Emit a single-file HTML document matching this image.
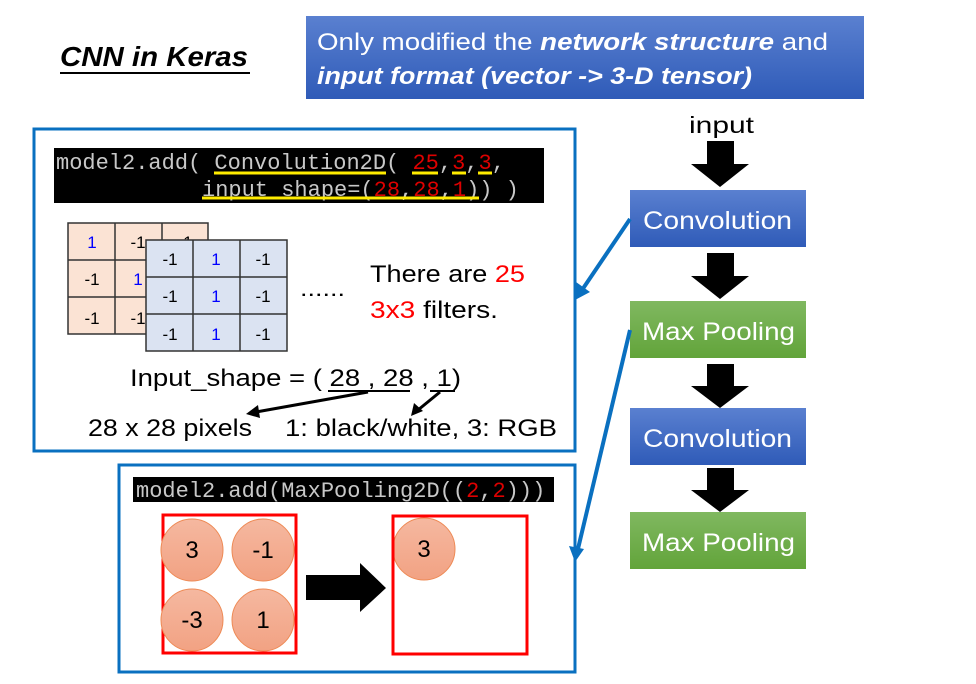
<!DOCTYPE html>
<html><head><meta charset="utf-8"><style>
body{margin:0;background:#fff}
svg{display:block}
text{font-family:"Liberation Sans",sans-serif}
.mono{font-family:"Liberation Mono",monospace}
</style></head><body>
<svg width="976" height="684" viewBox="0 0 976 684" xmlns="http://www.w3.org/2000/svg">
<defs>
<linearGradient id="bl" x1="0" y1="0" x2="0" y2="1"><stop offset="0" stop-color="#5a80d0"/><stop offset="1" stop-color="#2f5bb8"/></linearGradient>
<linearGradient id="gr" x1="0" y1="0" x2="0" y2="1"><stop offset="0" stop-color="#80b860"/><stop offset="1" stop-color="#62a43a"/></linearGradient>
<linearGradient id="ci" x1="0" y1="0" x2="0" y2="1"><stop offset="0" stop-color="#f5b8a0"/><stop offset="1" stop-color="#f2a283"/></linearGradient>
</defs>
<text x="60" y="66" font-size="28" font-weight="bold" font-style="italic" textLength="188" lengthAdjust="spacingAndGlyphs">CNN in Keras</text>
<line x1="60" y1="73" x2="250" y2="73" stroke="#000" stroke-width="2"/>
<rect x="306" y="16" width="558" height="83" fill="url(#bl)"/>
<text x="317" y="50" font-size="24" fill="#fff" textLength="511" lengthAdjust="spacingAndGlyphs">Only modified the <tspan font-weight="bold" font-style="italic">network structure</tspan> and</text>
<text x="317" y="84" font-size="24" fill="#fff" font-weight="bold" font-style="italic" textLength="435" lengthAdjust="spacingAndGlyphs">input format (vector -&gt; 3-D tensor)</text>
<text x="689" y="133" font-size="23" textLength="65" lengthAdjust="spacingAndGlyphs">input</text>
<g fill="#000">
<polygon points="707,141 734,141 734,164 749,164 720,187 691,164 707,164"/>
<polygon points="707,253 734,253 734,276 749,276 720,299 691,276 707,276"/>
<polygon points="707,364 734,364 734,386 749,386 720,408 691,386 707,386"/>
<polygon points="707,468 734,468 734,490 749,490 720,512 691,490 707,490"/>
</g>
<rect x="630" y="190" width="176" height="57" fill="url(#bl)"/>
<text x="643" y="229" font-size="25" fill="#fff" textLength="149" lengthAdjust="spacingAndGlyphs">Convolution</text>
<rect x="630" y="301" width="176" height="57" fill="url(#gr)"/>
<text x="642" y="340" font-size="25" fill="#fff" textLength="153" lengthAdjust="spacingAndGlyphs">Max Pooling</text>
<rect x="630" y="408" width="176" height="57" fill="url(#bl)"/>
<text x="643" y="447" font-size="25" fill="#fff" textLength="149" lengthAdjust="spacingAndGlyphs">Convolution</text>
<rect x="630" y="512" width="176" height="57" fill="url(#gr)"/>
<text x="642" y="551" font-size="25" fill="#fff" textLength="153" lengthAdjust="spacingAndGlyphs">Max Pooling</text>

<rect x="34" y="129" width="541" height="322" fill="none" stroke="#0a70c0" stroke-width="3"/>
<rect x="54" y="148" width="490" height="55" fill="#000"/>
<g fill="#c8c8c8" font-size="22">
<text x="56" y="169" class="mono" font-size="22">model2.add( Convolution2D( <tspan fill="#d00">25</tspan>,<tspan fill="#d00">3</tspan>,<tspan fill="#d00">3</tspan>,</text>
<text x="202" y="196" class="mono" font-size="22">input_shape=(<tspan fill="#d00">28</tspan>,<tspan fill="#d00">28</tspan>,<tspan fill="#d00">1</tspan>)) )</text>
</g>
<g stroke="#ffec00" stroke-width="3">
<line x1="214" y1="173" x2="386" y2="173"/><line x1="412" y1="173" x2="438" y2="173"/><line x1="452" y1="173" x2="466" y2="173"/><line x1="478" y1="173" x2="492" y2="173"/>
<line x1="202" y1="198" x2="479" y2="198"/>
</g>
<g stroke="#333" stroke-width="1.5" fill="#fbe3d4">
<rect x="68" y="223" width="140" height="111"/>
<line x1="115" y1="223" x2="115" y2="334"/><line x1="162" y1="223" x2="162" y2="334"/>
<line x1="68" y1="260" x2="208" y2="260"/><line x1="68" y1="297" x2="208" y2="297"/>
</g>
<g font-size="17" text-anchor="middle">
<text x="92" y="248" fill="#00f">1</text><text x="138" y="248">-1</text><text x="185" y="248">-1</text>
<text x="92" y="285">-1</text><text x="138" y="285" fill="#00f">1</text>
<text x="92" y="324">-1</text><text x="138" y="324">-1</text>
</g>
<g stroke="#333" stroke-width="1.5" fill="#dbe3f2">
<rect x="146" y="240" width="141" height="111"/>
<line x1="193" y1="240" x2="193" y2="351"/><line x1="240" y1="240" x2="240" y2="351"/>
<line x1="146" y1="277" x2="287" y2="277"/><line x1="146" y1="314" x2="287" y2="314"/>
</g>
<g font-size="17" text-anchor="middle">
<text x="170" y="265">-1</text><text x="216" y="265" fill="#00f">1</text><text x="263" y="265">-1</text>
<text x="170" y="302">-1</text><text x="216" y="302" fill="#00f">1</text><text x="263" y="302">-1</text>
<text x="170" y="340">-1</text><text x="216" y="340" fill="#00f">1</text><text x="263" y="340">-1</text>
</g>
<text x="300" y="296" font-size="22" textLength="45" lengthAdjust="spacingAndGlyphs">......</text>
<text x="370" y="282" font-size="24" textLength="155" lengthAdjust="spacingAndGlyphs">There are <tspan fill="#f00">25</tspan></text>
<text x="370" y="318" font-size="24" textLength="128" lengthAdjust="spacingAndGlyphs"><tspan fill="#f00">3x3</tspan> filters.</text>
<text x="130" y="386" font-size="24" textLength="331" lengthAdjust="spacingAndGlyphs">Input_shape = ( 28 , 28 , 1)</text>
<g stroke="#000" stroke-width="2"><line x1="328" y1="391" x2="410" y2="391"/><line x1="430" y1="391" x2="455" y2="391"/></g>
<g stroke="#000" stroke-width="3"><line x1="368" y1="392" x2="256" y2="412"/><line x1="440" y1="392" x2="418" y2="410"/></g>
<polygon points="246,414 258,405 260,418" fill="#000"/>
<polygon points="411,416 414,403 423,411" fill="#000"/>
<text x="88" y="436" font-size="24" textLength="164" lengthAdjust="spacingAndGlyphs">28 x 28 pixels</text>
<text x="285" y="436" font-size="24" textLength="272" lengthAdjust="spacingAndGlyphs">1: black/white, 3: RGB</text>

<rect x="119" y="465" width="456" height="207" fill="none" stroke="#0a70c0" stroke-width="3"/>
<rect x="133" y="477" width="421" height="25" fill="#000"/>
<text x="136" y="497" class="mono" font-size="22" fill="#c8c8c8">model2.add(MaxPooling2D((<tspan fill="#d00">2</tspan>,<tspan fill="#d00">2</tspan>)))</text>
<rect x="163" y="515" width="133" height="138" fill="none" stroke="#f00" stroke-width="3"/>
<g fill="url(#ci)" stroke="#ee8a55" stroke-width="1">
<circle cx="192" cy="550" r="31"/><circle cx="263" cy="550" r="31"/><circle cx="192" cy="620" r="31"/><circle cx="263" cy="620" r="31"/><circle cx="424" cy="549" r="31"/>
</g>
<g font-size="24" text-anchor="middle">
<text x="192" y="558">3</text><text x="263" y="558">-1</text><text x="192" y="628">-3</text><text x="263" y="628">1</text><text x="424" y="557">3</text>
</g>
<polygon points="306,575 360,575 360,563 386,588 360,612 360,600 306,600" fill="#000"/>
<rect x="393" y="516" width="134" height="138" fill="none" stroke="#f00" stroke-width="3"/>

<g stroke="#0a70c0" stroke-width="4" fill="none">
<line x1="630" y1="219" x2="580" y2="293"/>
<line x1="630" y1="330" x2="577" y2="553"/>
</g>
<polygon points="575,300 576,282 590,292" fill="#0a70c0"/>
<polygon points="575,562 569,546 584,549" fill="#0a70c0"/>
</svg>
</body></html>
